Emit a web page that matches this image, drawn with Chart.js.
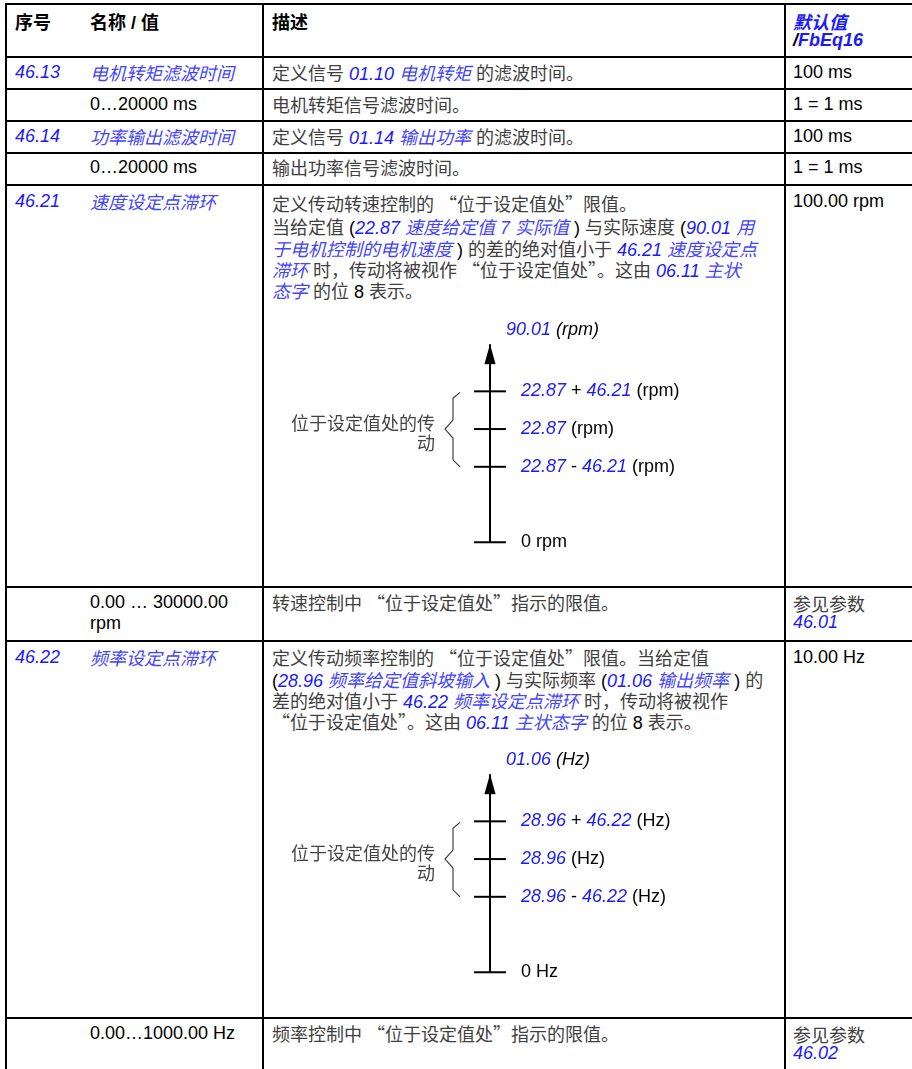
<!DOCTYPE html>
<html><head><meta charset="utf-8">
<script src="https://cdn.jsdelivr.net/npm/chart.js@4.4.0/dist/chart.umd.min.js"></script>
<style>
html,body{margin:0;padding:0;background:#fff;}
#page{position:relative;width:912px;height:1069px;overflow:hidden;font-family:"Liberation Sans",Arial,sans-serif;font-size:18px;color:#000;}
.hl{position:absolute;left:5px;width:907px;height:2px;background:#000;}
.vl{position:absolute;width:2px;background:#000;top:3px;height:1066px;}
.cell{position:absolute;white-space:nowrap;}
.cell div{white-space:nowrap;}
.cjk{font-family:"Noto Sans CJK SC",sans-serif;font-size:18px;}
.n{color:#000;}
.n .cjk{color:#404040;}
.v{color:#1a1aff;font-style:italic;}
.c{color:#4545ff;font-style:italic;}
.h{font-weight:bold;color:#000;}
.hb{color:#1a1aff;font-style:italic;font-weight:bold;}
.hk{color:#000;font-style:italic;font-weight:bold;}
canvas{position:absolute;}
</style></head>
<body>
<div id="page"></div>
<script>
// ---------------- DATA ----------------
const columnHeaders = ['序号', '名称 / 值', '描述'];
const defaultHeader = [[['默认值','hb']], [['/','hk'],['FbEq16','hb']]];

const rowIds = ['46.13', '', '46.14', '', '46.21', '', '46.22', ''];

const rowNameValue = [
  [[['电机转矩滤波时间','c']]],
  [[['0…20000 ms','n']]],
  [[['功率输出滤波时间','c']]],
  [[['0…20000 ms','n']]],
  [[['速度设定点滞环','c']]],
  [[['0.00 … 30000.00','n']], [['rpm','n']]],
  [[['频率设定点滞环','c']]],
  [[['0.00…1000.00 Hz','n']]]
];

const rowDescriptions = [
  [[['定义信号 ','n'],['01.10','v'],[' 电机转矩','c'],[' 的滤波时间。','n']]],
  [[['电机转矩信号滤波时间。','n']]],
  [[['定义信号 ','n'],['01.14','v'],[' 输出功率','c'],[' 的滤波时间。','n']]],
  [[['输出功率信号滤波时间。','n']]],
  [
    [['定义传动转速控制的 “位于设定值处”限值。','n']],
    [['当给定值 (','n'],['22.87','v'],[' 速度给定值 7 实际值','c'],[' ) 与实际速度 (','n'],['90.01','v'],[' 用','c']],
    [['于电机控制的电机速度','c'],[' ) 的差的绝对值小于 ','n'],['46.21','v'],[' 速度设定点','c']],
    [['滞环','c'],[' 时，传动将被视作 “位于设定值处”。这由 ','n'],['06.11','v'],[' 主状','c']],
    [['态字','c'],[' 的位 8 表示。','n']]
  ],
  [[['转速控制中 “位于设定值处”指示的限值。','n']]],
  [
    [['定义传动频率控制的 “位于设定值处”限值。当给定值','n']],
    [['(','n'],['28.96','v'],[' 频率给定值斜坡输入','c'],[' ) 与实际频率 (','n'],['01.06','v'],[' 输出频率','c'],[' ) 的','n']],
    [['差的绝对值小于 ','n'],['46.22','v'],[' 频率设定点滞环','c'],[' 时，传动将被视作','n']],
    [['“位于设定值处”。这由 ','n'],['06.11','v'],[' 主状态字','c'],[' 的位 8 表示。','n']]
  ],
  [[['频率控制中 “位于设定值处”指示的限值。','n']]]
];

const rowDefaults = [
  [[['100 ms','n']]],
  [[['1 = 1 ms','n']]],
  [[['100 ms','n']]],
  [[['1 = 1 ms','n']]],
  [[['100.00 rpm','n']]],
  [[['参见参数','n']], [['46.01','v']]],
  [[['10.00 Hz','n']]],
  [[['参见参数','n']], [['46.02','v']]]
];

// Diagram data (schematic units: 0, setpoint - hysteresis, setpoint, setpoint + hysteresis)
const diagramTickValues = [0, 2, 3, 4];
const diagramBand = [2, 3, 4];
const diagramAxisTop = 5.25;
const bandLabel = ['位于设定值处的传', '动'];

const speedAxisTitle = [['90.01','v'],[' (rpm)','ni']];
const speedTickLabels = [
  [['0 rpm','n']],
  [['22.87','v'],[' - ','n'],['46.21','v'],[' (rpm)','n']],
  [['22.87','v'],[' (rpm)','n']],
  [['22.87','v'],[' + ','n'],['46.21','v'],[' (rpm)','n']]
];
const freqAxisTitle = [['01.06','v'],[' (Hz)','ni']];
const freqTickLabels = [
  [['0 Hz','n']],
  [['28.96','v'],[' - ','n'],['46.22','v'],[' (Hz)','n']],
  [['28.96','v'],[' (Hz)','n']],
  [['28.96','v'],[' + ','n'],['46.22','v'],[' (Hz)','n']]
];

// ---------------- LAYOUT ----------------
const page = document.getElementById('page');
const hLines = [4, 57, 89, 121, 153, 185, 587, 641, 1018];
const vLines = [6, 263, 785];
hLines.forEach(y => { const d = document.createElement('div'); d.className = 'hl'; d.style.top = (y - 1) + 'px'; page.appendChild(d); });
vLines.forEach(x => { const d = document.createElement('div'); d.className = 'vl'; d.style.left = (x - 1) + 'px'; page.appendChild(d); });

const colX = [15, 90, 272, 793];
const CJK_RE = /([\u2018\u2019\u201c\u201d\u3000-\u303f\u3400-\u9fff\uff00-\uffef]+)/g;
function esc(s){ return s.replace(/&/g,'&amp;').replace(/</g,'&lt;').replace(/>/g,'&gt;'); }
function segHTML(text, style){
  const inner = esc(text).replace(/ /g, '\u00a0').replace(CJK_RE, '<span class="cjk">$1</span>');
  return '<span class="' + style + '">' + inner + '</span>';
}
function addCell(x, yCenter, lh, lines){
  const d = document.createElement('div');
  d.className = 'cell';
  d.style.left = x + 'px';
  d.style.top = (yCenter - lh / 2) + 'px';
  d.innerHTML = lines.map(l => '<div style="height:' + lh + 'px;line-height:' + lh + 'px">' + l.map(s => segHTML(s[0], s[1])).join('') + '</div>').join('');
  page.appendChild(d);
}

// header
addCell(colX[0], 21.5, 21, [[[columnHeaders[0], 'h']]]);
addCell(colX[1], 21.5, 21, [[[columnHeaders[1], 'h']]]);
addCell(colX[2], 21.5, 21, [[[columnHeaders[2], 'h']]]);
addCell(colX[3], 21.5, 19, defaultHeader);

const rowCenters = [72, 104, 136, 167.5, 201, 602, 657, 1033];
const descLH = [21, 21, 21, 21, 21.3, 21, 21.3, 21];
rowIds.forEach((id, i) => {
  const yc = rowCenters[i];
  if (id) addCell(colX[0], yc, 21, [[[id, 'v']]]);
  addCell(colX[1], yc, 21, rowNameValue[i]);
  if (i === 4) {
    addCell(colX[2], 203, 21, [rowDescriptions[i][0]]);
    addCell(colX[2], 227, 21.3, rowDescriptions[i].slice(1));
  } else {
    addCell(colX[2], yc + (i === 6 ? 1 : 0), descLH[i], rowDescriptions[i]);
  }
  const defs = rowDefaults[i];
  addCell(colX[3], yc + (defs.length > 1 ? 1.5 : 0), 19, defs);
});

// ---------------- DIAGRAMS (Chart.js) ----------------
function makeArrowHead(){
  const c = document.createElement('canvas');
  c.width = 12; c.height = 42;
  const g = c.getContext('2d');
  g.fillStyle = '#000';
  g.beginPath(); g.moveTo(6, 21); g.lineTo(11.6, 41); g.lineTo(0.4, 41); g.closePath(); g.fill();
  return c;
}
const arrowHead = makeArrowHead();

function fontFor(style, size){
  if (style === 'v') return { font: 'italic ' + size + 'px "Liberation Sans", Arial', color: '#1a1aff' };
  if (style === 'ni') return { font: 'italic ' + size + 'px "Liberation Sans", Arial', color: '#000' };
  return { font: size + 'px "Liberation Sans", Arial', color: '#000' };
}
function drawSegs(ctx, segs, x, y){
  let cx = x;
  segs.forEach(([t, st]) => {
    const f = fontFor(st, 18);
    ctx.font = f.font; ctx.fillStyle = f.color;
    ctx.fillText(t, cx, y);
    cx += ctx.measureText(t).width;
  });
}

const diagramLabelsPlugin = {
  id: 'diagramLabels',
  afterDatasetsDraw(chart, args, opts){
    const ctx = chart.ctx;
    const xs = chart.scales.x, ys = chart.scales.y;
    const ax = xs.getPixelForValue(0);
    ctx.save();
    ctx.textBaseline = 'middle';
    ctx.textAlign = 'left';
    opts.tickLabels.forEach((segs, i) => drawSegs(ctx, segs, ax + 31, ys.getPixelForValue(opts.tickValues[i])));
    drawSegs(ctx, opts.title, ax + 16, ys.getPixelForValue(opts.axisTop) - 14);
    // brace
    const yBot = ys.getPixelForValue(opts.band[0]);
    const yMid = ys.getPixelForValue(opts.band[1]);
    const yTop = ys.getPixelForValue(opts.band[2]);
    ctx.strokeStyle = '#333'; ctx.lineWidth = 1.1;
    ctx.beginPath();
    ctx.moveTo(ax - 30, yTop + 1);
    ctx.lineTo(ax - 37, yTop + 7);
    ctx.lineTo(ax - 37, yMid - 9);
    ctx.lineTo(ax - 45, yMid);
    ctx.lineTo(ax - 37, yMid + 9);
    ctx.lineTo(ax - 37, yBot - 7);
    ctx.lineTo(ax - 30, yBot);
    ctx.stroke();
    // band label
    ctx.textAlign = 'right';
    ctx.font = '18px "Noto Sans CJK SC", sans-serif';
    ctx.fillStyle = '#444';
    ctx.fillText(opts.bandLabel[0], ax - 55, yMid - 6);
    ctx.fillText(opts.bandLabel[1], ax - 55, yMid + 14);
    ctx.restore();
  }
};

function makeDiagram(top, title, tickLabels){
  const cv = document.createElement('canvas');
  cv.width = 500; cv.height = 283;
  cv.style.left = '240px'; cv.style.top = top + 'px';
  page.appendChild(cv);
  new Chart(cv, {
    type: 'scatter',
    data: {
      datasets: [
        { data: [{x: 0, y: diagramTickValues[0]}, {x: 0, y: diagramAxisTop}], showLine: true, borderColor: '#000', borderWidth: 2, pointRadius: 0 },
        { data: [{x: 0, y: diagramAxisTop}], pointStyle: arrowHead, pointRadius: 6, showLine: false },
        { data: diagramTickValues.map(v => ({x: 0, y: v})), pointStyle: 'line', pointRadius: 16, borderWidth: 2, borderColor: '#000', backgroundColor: '#000', showLine: false }
      ]
    },
    options: {
      responsive: false, animation: false, devicePixelRatio: 1,
      layout: { padding: 0, autoPadding: false },
      scales: {
        x: { display: false, min: -1, max: 1 },
        y: { display: false, min: -1, max: 6.5 }
      },
      plugins: {
        legend: { display: false }, tooltip: { enabled: false },
        diagramLabels: { tickLabels: tickLabels, tickValues: diagramTickValues, title: title, axisTop: diagramAxisTop, band: diagramBand, bandLabel: bandLabel }
      },
      events: []
    },
    plugins: [diagramLabelsPlugin]
  });
}
makeDiagram(297, speedAxisTitle, speedTickLabels);
makeDiagram(727, freqAxisTitle, freqTickLabels);
</script>
</body></html>
